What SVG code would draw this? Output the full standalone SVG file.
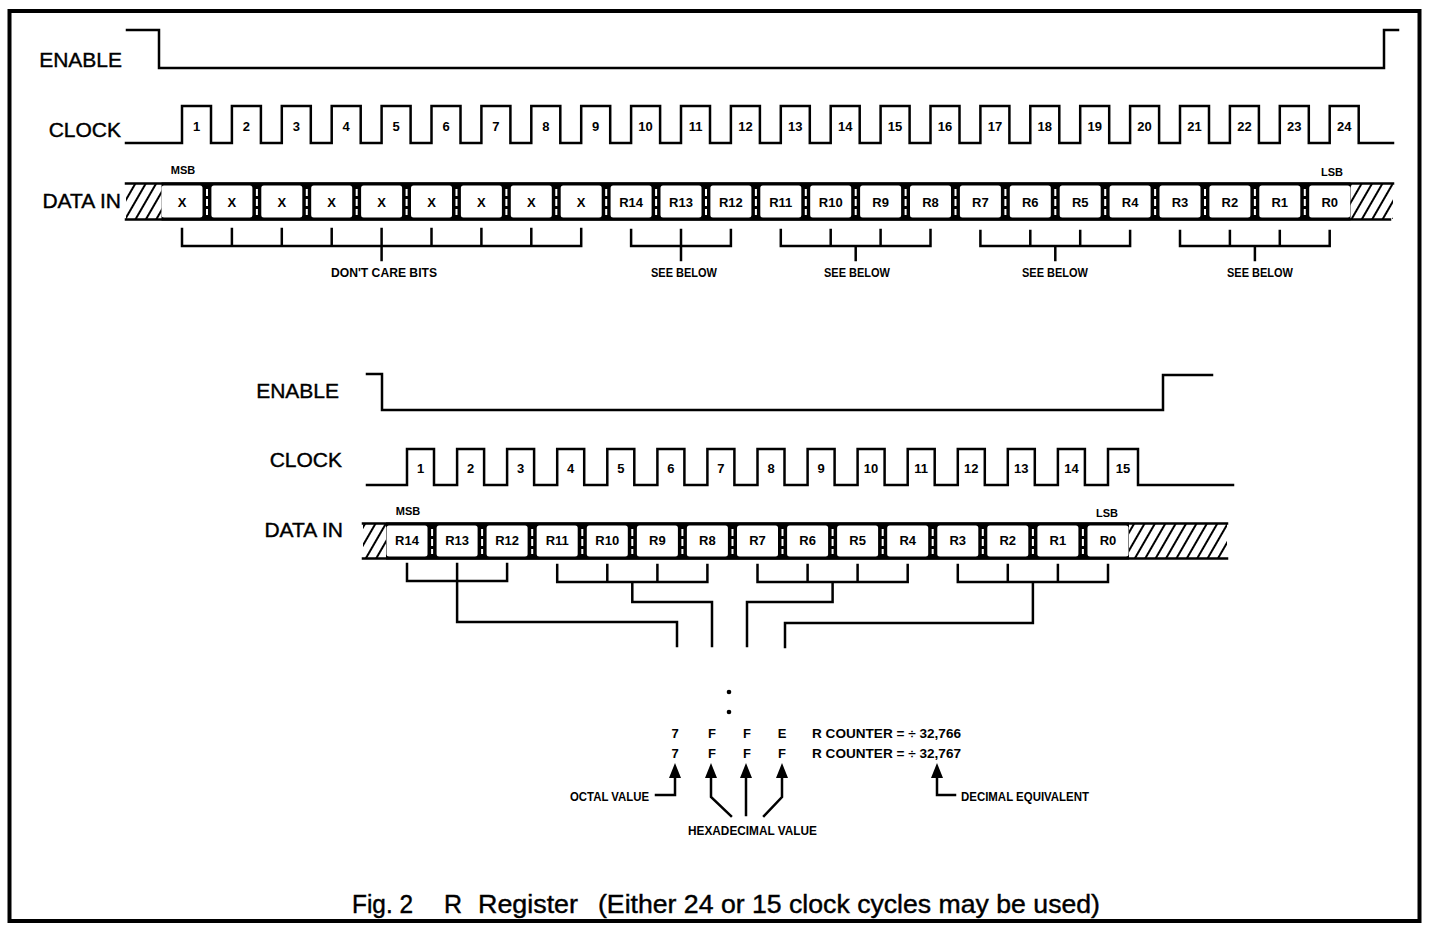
<svg xmlns="http://www.w3.org/2000/svg" width="1434" height="927" viewBox="0 0 1434 927">
<defs>
<pattern id="hatch" patternUnits="userSpaceOnUse" width="9" height="9" patternTransform="rotate(30)">
<line x1="2" y1="-1" x2="2" y2="10" stroke="#000" stroke-width="2"/>
</pattern>
<style>
.ln{fill:none;stroke:#000;stroke-width:2.5;stroke-linejoin:miter;stroke-linecap:square}
.big{font-family:"Liberation Sans",Arial,sans-serif;font-size:21px;fill:#000;stroke:#000;stroke-width:0.4;text-anchor:end}
.sm{font-family:"Liberation Sans",Arial,sans-serif;font-size:13px;font-weight:bold;fill:#000;text-anchor:middle}
.xs{font-family:"Liberation Sans",Arial,sans-serif;font-size:11px;font-weight:bold;fill:#000;text-anchor:middle}
.md{font-family:"Liberation Sans",Arial,sans-serif;font-size:13px;font-weight:bold;fill:#000;text-anchor:middle}
.lt{font-family:"Liberation Sans",Arial,sans-serif;font-size:13px;font-weight:bold;fill:#000}
.cap{font-family:"Liberation Sans",Arial,sans-serif;font-size:25px;fill:#000;stroke:#000;stroke-width:0.4}
.cell{fill:#fff;stroke:none}
.gap{stroke:#fff;stroke-width:2;stroke-dasharray:7 3;fill:none}
.band{fill:#000}
</style>
</defs>
<rect x="0" y="0" width="1434" height="927" fill="#fff"/>
<rect id="frame" x="9.5" y="11" width="1410" height="910" fill="none" stroke="#000" stroke-width="4"/>

<!-- ===================== TOP TIMING (24 clocks) ===================== -->
<g id="top-enable">
<text class="big" x="122" y="67">ENABLE</text>
<path class="ln" d="M127,30 H159 V68 H1384 V30 H1398"/>
</g>

<g id="top-clock">
<text class="big" x="121" y="137">CLOCK</text>
<path class="ln" d="M126,143 H182 V106 H211 V143 H231.9 V106 H260.9 V143 H281.8 V106 H310.8 V143 H331.7 V106 H360.7 V143 H381.6 V106 H410.6 V143 H431.5 V106 H460.5 V143 H481.4 V106 H510.4 V143 H531.3 V106 H560.3 V143 H581.2 V106 H610.2 V143 H631.1 V106 H660.1 V143 H681 V106 H710 V143 H730.9 V106 H759.9 V143 H780.8 V106 H809.8 V143 H830.7 V106 H859.7 V143 H880.6 V106 H909.6 V143 H930.5 V106 H959.5 V143 H980.4 V106 H1009.4 V143 H1030.3 V106 H1059.3 V143 H1080.2 V106 H1109.2 V143 H1130.1 V106 H1159.1 V143 H1180 V106 H1209 V143 H1229.9 V106 H1258.9 V143 H1279.8 V106 H1308.8 V143 H1329.7 V106 H1358.7 V143 H1393"/>
<g class="sm">
<text x="196.5" y="131">1</text><text x="246.4" y="131">2</text><text x="296.3" y="131">3</text><text x="346.2" y="131">4</text>
<text x="396.1" y="131">5</text><text x="446" y="131">6</text><text x="495.9" y="131">7</text><text x="545.8" y="131">8</text>
<text x="595.7" y="131">9</text><text x="645.6" y="131">10</text><text x="695.5" y="131">11</text><text x="745.4" y="131">12</text>
<text x="795.3" y="131">13</text><text x="845.2" y="131">14</text><text x="895.1" y="131">15</text><text x="945" y="131">16</text>
<text x="994.9" y="131">17</text><text x="1044.8" y="131">18</text><text x="1094.7" y="131">19</text><text x="1144.6" y="131">20</text>
<text x="1194.5" y="131">21</text><text x="1244.4" y="131">22</text><text x="1294.3" y="131">23</text><text x="1344.2" y="131">24</text>
</g>
</g>

<g id="top-data">
<text class="big" x="121" y="208">DATA IN</text>
<rect x="126" y="184" width="36" height="35" fill="url(#hatch)"/>
<rect x="1350" y="184" width="43" height="35" fill="url(#hatch)"/>
<path class="ln" d="M126,183.5 H1393 M126,219.5 H1390"/>
<rect class="band" x="161.5" y="182.5" width="1189" height="38"/>
<g>
<rect class="cell" x="161.5" y="185.5" width="41" height="32" rx="2.5"/>
<rect class="cell" x="211.4" y="185.5" width="41" height="32" rx="2.5"/>
<rect class="cell" x="261.3" y="185.5" width="41" height="32" rx="2.5"/>
<rect class="cell" x="311.2" y="185.5" width="41" height="32" rx="2.5"/>
<rect class="cell" x="361.1" y="185.5" width="41" height="32" rx="2.5"/>
<rect class="cell" x="411" y="185.5" width="41" height="32" rx="2.5"/>
<rect class="cell" x="460.9" y="185.5" width="41" height="32" rx="2.5"/>
<rect class="cell" x="510.8" y="185.5" width="41" height="32" rx="2.5"/>
<rect class="cell" x="560.7" y="185.5" width="41" height="32" rx="2.5"/>
<rect class="cell" x="610.6" y="185.5" width="41" height="32" rx="2.5"/>
<rect class="cell" x="660.5" y="185.5" width="41" height="32" rx="2.5"/>
<rect class="cell" x="710.4" y="185.5" width="41" height="32" rx="2.5"/>
<rect class="cell" x="760.3" y="185.5" width="41" height="32" rx="2.5"/>
<rect class="cell" x="810.2" y="185.5" width="41" height="32" rx="2.5"/>
<rect class="cell" x="860.1" y="185.5" width="41" height="32" rx="2.5"/>
<rect class="cell" x="910" y="185.5" width="41" height="32" rx="2.5"/>
<rect class="cell" x="959.9" y="185.5" width="41" height="32" rx="2.5"/>
<rect class="cell" x="1009.8" y="185.5" width="41" height="32" rx="2.5"/>
<rect class="cell" x="1059.7" y="185.5" width="41" height="32" rx="2.5"/>
<rect class="cell" x="1109.6" y="185.5" width="41" height="32" rx="2.5"/>
<rect class="cell" x="1159.5" y="185.5" width="41" height="32" rx="2.5"/>
<rect class="cell" x="1209.4" y="185.5" width="41" height="32" rx="2.5"/>
<rect class="cell" x="1259.3" y="185.5" width="41" height="32" rx="2.5"/>
<rect class="cell" x="1309.2" y="185.5" width="41" height="32" rx="2.5"/>
</g>
<path class="gap" d="M207,189 V215 M256.9,189 V215 M306.8,189 V215 M356.7,189 V215 M406.6,189 V215 M456.5,189 V215 M506.4,189 V215 M556.3,189 V215 M606.2,189 V215 M656.1,189 V215 M706,189 V215 M755.9,189 V215 M805.8,189 V215 M855.7,189 V215 M905.6,189 V215 M955.5,189 V215 M1005.4,189 V215 M1055.3,189 V215 M1105.2,189 V215 M1155.1,189 V215 M1205,189 V215 M1254.9,189 V215 M1304.8,189 V215"/>
<g class="sm">
<text x="182" y="207">X</text><text x="231.9" y="207">X</text><text x="281.8" y="207">X</text><text x="331.7" y="207">X</text>
<text x="381.6" y="207">X</text><text x="431.5" y="207">X</text><text x="481.4" y="207">X</text><text x="531.3" y="207">X</text>
<text x="581.2" y="207">X</text><text x="631.1" y="207">R14</text><text x="681" y="207">R13</text><text x="730.9" y="207">R12</text>
<text x="780.8" y="207">R11</text><text x="830.7" y="207">R10</text><text x="880.6" y="207">R9</text><text x="930.5" y="207">R8</text>
<text x="980.4" y="207">R7</text><text x="1030.3" y="207">R6</text><text x="1080.2" y="207">R5</text><text x="1130.1" y="207">R4</text>
<text x="1180" y="207">R3</text><text x="1229.9" y="207">R2</text><text x="1279.8" y="207">R1</text><text x="1329.7" y="207">R0</text>
</g>
<text class="xs" x="183" y="174">MSB</text>
<text class="xs" x="1332" y="176">LSB</text>
</g>

<g id="top-connectors">
<path class="ln" d="M182,229 V246 H581.2 V229 M231.9,229 V246 M281.8,229 V246 M331.7,229 V246 M381.6,229 V260 M431.5,229 V246 M481.4,229 V246 M531.3,229 V246"/>
<path class="ln" d="M631.1,230 V246 H730.9 V230 M681,230 V260"/>
<path class="ln" d="M780.8,230 V246 H930.5 V230 M830.7,230 V246 M880.6,230 V246 M855.7,246 V260"/>
<path class="ln" d="M980.4,231 V246 H1130.1 V231 M1030.3,231 V246 M1080.2,231 V246 M1055.3,246 V260"/>
<path class="ln" d="M1180,231 V246 H1329.7 V231 M1229.9,231 V246 M1279.8,231 V246 M1254.9,246 V260"/>
</g>
<g id="top-notes">
<text class="md" x="384" y="277" textLength="106" lengthAdjust="spacingAndGlyphs">DON'T CARE BITS</text>
<text class="md" x="684" y="277" textLength="66" lengthAdjust="spacingAndGlyphs">SEE BELOW</text>
<text class="md" x="857" y="277" textLength="66" lengthAdjust="spacingAndGlyphs">SEE BELOW</text>
<text class="md" x="1055" y="277" textLength="66" lengthAdjust="spacingAndGlyphs">SEE BELOW</text>
<text class="md" x="1260" y="277" textLength="66" lengthAdjust="spacingAndGlyphs">SEE BELOW</text>
</g>

<!-- ===================== BOTTOM TIMING (15 clocks) ===================== -->
<g id="bot-enable">
<text class="big" x="339" y="398">ENABLE</text>
<path class="ln" d="M367,374 H382 V410 H1163 V375 H1212"/>
</g>

<g id="bot-clock">
<text class="big" x="342" y="467">CLOCK</text>
<path class="ln" d="M367,485 H407 V449 H434 V485 H457.1 V449 H484.1 V485 H507.1 V449 H534.1 V485 H557.2 V449 H584.2 V485 H607.3 V449 H634.3 V485 H657.4 V449 H684.4 V485 H707.4 V449 H734.4 V485 H757.5 V449 H784.5 V485 H807.6 V449 H834.6 V485 H857.6 V449 H884.6 V485 H907.7 V449 H934.7 V485 H957.8 V449 H984.8 V485 H1007.8 V449 H1034.8 V485 H1057.9 V449 H1084.9 V485 H1108 V449 H1138 V485 H1233"/>
<g class="sm">
<text x="420.5" y="473">1</text><text x="470.6" y="473">2</text><text x="520.6" y="473">3</text><text x="570.7" y="473">4</text>
<text x="620.8" y="473">5</text><text x="670.9" y="473">6</text><text x="720.9" y="473">7</text><text x="771" y="473">8</text>
<text x="821.1" y="473">9</text><text x="871.1" y="473">10</text><text x="921.2" y="473">11</text><text x="971.3" y="473">12</text>
<text x="1021.3" y="473">13</text><text x="1071.4" y="473">14</text><text x="1123" y="473">15</text>
</g>
</g>

<g id="bot-data">
<text class="big" x="343" y="537">DATA IN</text>
<rect x="363" y="524" width="23" height="34" fill="url(#hatch)"/>
<rect x="1129" y="524" width="98" height="34" fill="url(#hatch)"/>
<path class="ln" d="M363,523.5 H1227 M363,558.5 H1227"/>
<rect class="band" x="386" y="522.5" width="743" height="37"/>
<g>
<rect class="cell" x="386.5" y="525.5" width="41" height="31" rx="2.5"/>
<rect class="cell" x="436.6" y="525.5" width="41" height="31" rx="2.5"/>
<rect class="cell" x="486.6" y="525.5" width="41" height="31" rx="2.5"/>
<rect class="cell" x="536.7" y="525.5" width="41" height="31" rx="2.5"/>
<rect class="cell" x="586.8" y="525.5" width="41" height="31" rx="2.5"/>
<rect class="cell" x="636.9" y="525.5" width="41" height="31" rx="2.5"/>
<rect class="cell" x="686.9" y="525.5" width="41" height="31" rx="2.5"/>
<rect class="cell" x="737" y="525.5" width="41" height="31" rx="2.5"/>
<rect class="cell" x="787.1" y="525.5" width="41" height="31" rx="2.5"/>
<rect class="cell" x="837.1" y="525.5" width="41" height="31" rx="2.5"/>
<rect class="cell" x="887.2" y="525.5" width="41" height="31" rx="2.5"/>
<rect class="cell" x="937.3" y="525.5" width="41" height="31" rx="2.5"/>
<rect class="cell" x="987.3" y="525.5" width="41" height="31" rx="2.5"/>
<rect class="cell" x="1037.4" y="525.5" width="41" height="31" rx="2.5"/>
<rect class="cell" x="1087.5" y="525.5" width="41" height="31" rx="2.5"/>
</g>
<path class="gap" d="M432.1,529 V554 M482.1,529 V554 M532.2,529 V554 M582.3,529 V554 M632.3,529 V554 M682.4,529 V554 M732.5,529 V554 M782.5,529 V554 M832.6,529 V554 M882.7,529 V554 M932.7,529 V554 M982.8,529 V554 M1032.9,529 V554 M1082.9,529 V554"/>
<g class="sm">
<text x="407" y="545">R14</text><text x="457.1" y="545">R13</text><text x="507.1" y="545">R12</text><text x="557.2" y="545">R11</text>
<text x="607.3" y="545">R10</text><text x="657.4" y="545">R9</text><text x="707.4" y="545">R8</text><text x="757.5" y="545">R7</text>
<text x="807.6" y="545">R6</text><text x="857.6" y="545">R5</text><text x="907.7" y="545">R4</text><text x="957.8" y="545">R3</text>
<text x="1007.8" y="545">R2</text><text x="1057.9" y="545">R1</text><text x="1108" y="545">R0</text>
</g>
<text class="xs" x="408" y="515">MSB</text>
<text class="xs" x="1107" y="517">LSB</text>
</g>

<g id="bot-connectors">
<path class="ln" d="M407,564 V581 H507.1 V564 M457.1,564 V622 H677 V646"/>
<path class="ln" d="M557.2,565 V582 H707.4 V565 M607.3,565 V582 M657.4,565 V582 M632.3,582 V602 H712 V646"/>
<path class="ln" d="M757.5,565 V582 H907.7 V565 M807.6,565 V582 M857.6,565 V582 M832.6,582 V602 H747 V646"/>
<path class="ln" d="M957.8,565 V582 H1108 V565 M1007.8,565 V582 M1057.9,565 V582 M1032.9,582 V623 H785 V647"/>
</g>

<!-- ===================== VALUES ===================== -->
<g id="values">
<circle cx="729" cy="692" r="2.3" fill="#000"/>
<circle cx="729" cy="712" r="2.3" fill="#000"/>
<g class="sm">
<text x="675" y="738">7</text><text x="712" y="738">F</text><text x="747" y="738">F</text><text x="782" y="738">E</text>
<text x="675" y="758">7</text><text x="712" y="758">F</text><text x="747" y="758">F</text><text x="782" y="758">F</text>
</g>
<text class="lt" x="812" y="738" textLength="149" lengthAdjust="spacingAndGlyphs">R COUNTER =  ÷ 32,766</text>
<text class="lt" x="812" y="758" textLength="149" lengthAdjust="spacingAndGlyphs">R COUNTER =  ÷ 32,767</text>
</g>

<g id="value-arrows">
<path d="M675,763 L669,778 H681 Z M711,763 L705,778 H717 Z M746,763 L740,778 H752 Z M782,763 L776,778 H788 Z M937,763 L931,778 H943 Z" fill="#000"/>
<path class="ln" d="M675,776 V795 H656"/>
<path class="ln" d="M711,776 V797 L731,816"/>
<path class="ln" d="M746,776 V815"/>
<path class="ln" d="M782,776 V797 L764,816"/>
<path class="ln" d="M937,776 V795 H955"/>
</g>
<g id="value-notes">
<text class="lt" x="570" y="801" textLength="79" lengthAdjust="spacingAndGlyphs">OCTAL VALUE</text>
<text class="lt" x="688" y="835" textLength="129" lengthAdjust="spacingAndGlyphs">HEXADECIMAL VALUE</text>
<text class="lt" x="961" y="801" textLength="128" lengthAdjust="spacingAndGlyphs">DECIMAL EQUIVALENT</text>
</g>

<g id="caption">
<text class="cap" x="352" y="913" textLength="61" lengthAdjust="spacingAndGlyphs">Fig. 2</text>
<text class="cap" x="444" y="913">R</text>
<text class="cap" x="478" y="913" textLength="100" lengthAdjust="spacingAndGlyphs">Register</text>
<text class="cap" x="598" y="913" textLength="502" lengthAdjust="spacingAndGlyphs">(Either 24 or 15 clock cycles may be used)</text>
</g>
</svg>
